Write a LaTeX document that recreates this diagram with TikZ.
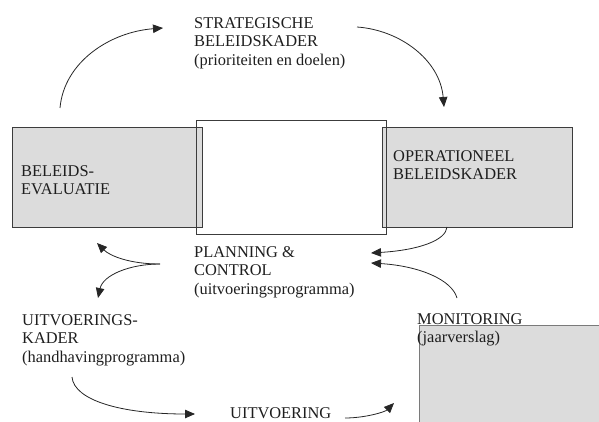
\documentclass[tikz,border=0pt]{standalone}
\usepackage{fontspec}
\setmainfont{Liberation Serif}
\usetikzlibrary{arrows.meta}
\definecolor{boxgray}{HTML}{DCDCDC}
\definecolor{edgegray}{HTML}{3C3C3C}
\definecolor{softedge}{HTML}{7A7A7A}
\definecolor{txt}{HTML}{1E1E1E}
\tikzset{
  graybox/.style={draw=edgegray, fill=boxgray, line width=0.9pt, inner sep=0pt, anchor=north west},
  openbox/.style={draw=edgegray, line width=0.9pt, inner sep=0pt, anchor=north west},
  lbl/.style={anchor=north west, inner sep=0pt, align=left, text=txt,
    font=\fontsize{16.4}{18.8}\selectfont},
  flow/.style={draw=black!85, line width=0.8pt, -{Triangle[length=10pt,width=8.5pt]}}
}
\begin{document}
\begin{tikzpicture}[x=1pt,y=-1pt]
\useasboundingbox (0,0) rectangle (599,422);
% boxes
\node[graybox, minimum width=190pt, minimum height=100pt] (evalbox) at (12,127) {};
\node[graybox, minimum width=190pt, minimum height=100pt] (opbox) at (382,127) {};
\node[openbox, minimum width=190pt, minimum height=114pt] (pcbox) at (196,120) {};
\node[graybox, draw=softedge, minimum width=195pt, minimum height=110pt] (monbox) at (419,325) {};
% texts
\node[lbl] (strat) at (194,14.8) {\strut STRATEGISCHE\\BELEIDSKADER\\(prioriteiten en doelen)};
\node[lbl] (evaltxt) at (21,162.8) {\strut BELEIDS-\\EVALUATIE};
\node[lbl] (optxt) at (393,147.8) {\strut OPERATIONEEL\\BELEIDSKADER};
\node[lbl] (plan) at (194,243.8) {\strut PLANNING \&\\CONTROL\\(uitvoeringsprogramma)};
\node[lbl] (uk) at (22,311.8) {\strut UITVOERINGS-\\KADER\\(handhavingprogramma)};
\node[lbl] (mon) at (417,310.8) {\strut MONITORING\\(jaarverslag)};
\node[lbl] (uitv) at (230,405.5) {\strut UITVOERING};
% connector end points
\coordinate (a1s) at (60,108);   \coordinate (a1e) at (163,28);
\coordinate (a2s) at (357,27);   \coordinate (a2e) at (444,107);
\coordinate (a3s) at (447,227);  \coordinate (a3e) at (371,253);
\coordinate (a4s) at (457,298);  \coordinate (a4e) at (371,263);
\coordinate (split) at (160,264);
\coordinate (a5e) at (97,243);   \coordinate (a6e) at (98,298);
\coordinate (a7s) at (72,377);   \coordinate (a7e) at (195,414);
\coordinate (a8s) at (345,418);  \coordinate (a8e) at (394,403);
% connectors
\draw[flow] (a1s) .. controls (64,62) and (110,32) .. (a1e);
\draw[flow] (a2s) .. controls (400,30) and (440,60) .. (a2e);
\draw[flow] (a3s) .. controls (446,240) and (420,250) .. (a3e);
\draw[flow] (a4s) .. controls (452,280) and (420,266) .. (a4e);
\draw[flow] (split) .. controls (130,264) and (110,256) .. (a5e);
\draw[flow] (split) .. controls (130,264) and (103,275) .. (a6e);
\draw[flow] (a7s) .. controls (74,400) and (120,414) .. (a7e);
\draw[flow] (a8s) .. controls (365,418) and (385,412) .. (a8e);
\end{tikzpicture}
\end{document}
